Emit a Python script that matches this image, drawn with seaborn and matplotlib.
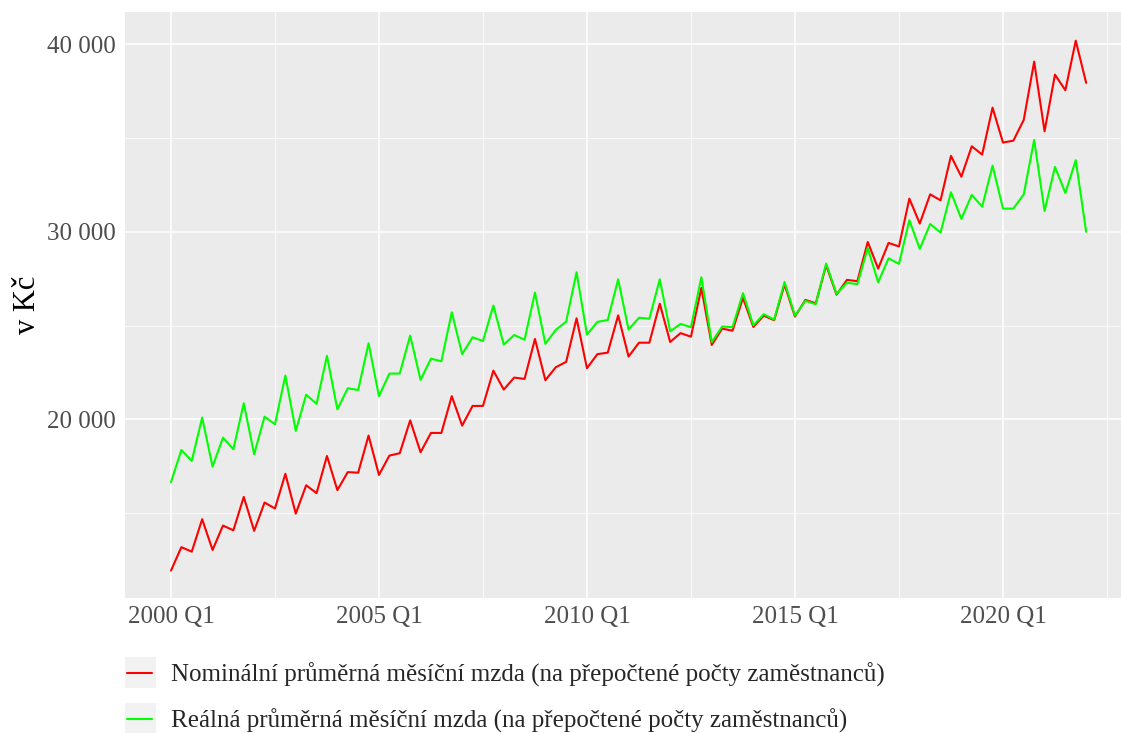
import numpy as np
import pandas as pd
import matplotlib
matplotlib.use("Agg")
import matplotlib.pyplot as plt
import matplotlib.ticker as mticker
from matplotlib.patches import Rectangle
from matplotlib.lines import Line2D
import seaborn as sns

# Čtvrtletí 2000 Q1 - 2022 Q1
years = list(range(2000, 2023))
quarters = [f"{y} Q{q}" for y in years for q in range(1, 5)][:89]

# Nominální průměrná měsíční mzda (Kč)
nominal = [
    11940, 13190, 12950, 14680, 13040, 14340, 14090, 15870, 14060, 15570,
    15250, 17100, 14980, 16490, 16070, 18050, 16230, 17190, 17160, 19140,
    17040, 18070, 18200, 19950, 18250, 19280, 19280, 21240, 19670, 20720,
    20720, 22600, 21590, 22230, 22160, 24290, 22090, 22780, 23070, 25390,
    22730, 23480, 23560, 25550, 23350, 24090, 24090, 26170, 24130, 24600,
    24410, 27010, 23970, 24840, 24730, 26480, 24930, 25530, 25290, 27190,
    25480, 26370, 26190, 28220, 26650, 27440, 27370, 29460, 28040, 29410,
    29220, 31770, 30440, 32000, 31680, 34050, 32940, 34560, 34120, 36620,
    34760, 34860, 35970, 39070, 35360, 38380, 37550, 40190, 37940,
]

# Reálná průměrná měsíční mzda (Kč)
real = [
    16650, 18370, 17790, 20100, 17480, 19030, 18410, 20860, 18140, 20150,
    19740, 22340, 19390, 21320, 20830, 23390, 20540, 21660, 21570, 24060,
    21240, 22440, 22450, 24470, 22110, 23240, 23100, 25710, 23480, 24380,
    24180, 26070, 23990, 24500, 24250, 26760, 24030, 24770, 25210, 27850,
    24520, 25200, 25300, 27470, 24790, 25420, 25370, 27470, 24700, 25090,
    24920, 27580, 24120, 24950, 24920, 26730, 25020, 25610, 25320, 27330,
    25530, 26320, 26140, 28310, 26690, 27290, 27210, 29140, 27310, 28590,
    28290, 30620, 29090, 30420, 29960, 32110, 30690, 31970, 31340, 33530,
    31240, 31240, 32000, 34900, 31110, 33460, 32070, 33820, 30000,
]

label_nom = "Nominální průměrná měsíční mzda (na přepočtené počty zaměstnanců)"
label_real = "Reálná průměrná měsíční mzda (na přepočtené počty zaměstnanců)"

df = pd.DataFrame({
    "ctvrtleti": quarters * 2,
    "idx": list(range(len(quarters))) * 2,
    "mzda": nominal + real,
    "rada": [label_nom] * len(nominal) + [label_real] * len(real),
})

sns.set_theme(style="darkgrid")
plt.rcParams["font.family"] = ["Liberation Serif", "DejaVu Serif"]

colors = {label_nom: "#FF0000", label_real: "#00FF00"}

fig = plt.figure(figsize=(11.21, 7.33), dpi=100)
ax = fig.add_axes([125 / 1121, 1 - 598 / 733, (1121 - 125) / 1121, (598 - 12) / 733])
ax.set_facecolor("#EBEBEB")

sns.lineplot(data=df, x="idx", y="mzda", hue="rada", palette=colors,
             linewidth=1.5, legend=False, ax=ax)

# osy
ax.set_xlim(-4.42, 91.35)
ax.set_ylim(10480, 41720)
ax.set_xticks([0, 20, 40, 60, 80])
ax.set_xticklabels([quarters[i] for i in [0, 20, 40, 60, 80]])
ax.set_xticks([10, 30, 50, 70, 90], minor=True)
ax.set_yticks([20000, 30000, 40000])
ax.set_yticks([15000, 25000, 35000], minor=True)
ax.yaxis.set_major_formatter(
    mticker.FuncFormatter(lambda v, p: f"{v:,.0f}".replace(",", " ")))

ax.grid(which="major", color="white", linewidth=1.1)
ax.grid(which="minor", color="white", linewidth=0.55)
for s in ax.spines.values():
    s.set_visible(False)

ax.tick_params(axis="both", which="major", length=3.5, width=0.8,
               color="#333333", labelsize=18, labelcolor="#4D4D4D", pad=2)
ax.tick_params(axis="y", which="major", pad=3.5)
ax.tick_params(axis="both", which="minor", length=0)

ax.set_xlabel("")
ax.set_ylabel("v Kč", fontsize=22, color="black")
ax.yaxis.set_label_coords(-0.0834, 0.5)

# legenda pod grafem
W, H = 1121, 733
for top in [657.3, 702.7]:
    fig.patches.append(Rectangle((125 / W, 1 - (top + 30.4) / H), 30.7 / W, 30.4 / H,
                                 transform=fig.transFigure, facecolor="#F2F2F2",
                                 edgecolor="none", zorder=0))
handles = [Line2D([], [], color=colors[label_nom], linewidth=1.5),
           Line2D([], [], color=colors[label_real], linewidth=1.5)]
fig.legend(handles, [label_nom, label_real], loc="upper left",
           bbox_to_anchor=(127 / W, 1 - 663 / H), frameon=False, fontsize=18,
           handlelength=1.0, handletextpad=0.75, labelspacing=0.85,
           borderpad=0, borderaxespad=0)

fig.savefig("out.png", dpi=100)
